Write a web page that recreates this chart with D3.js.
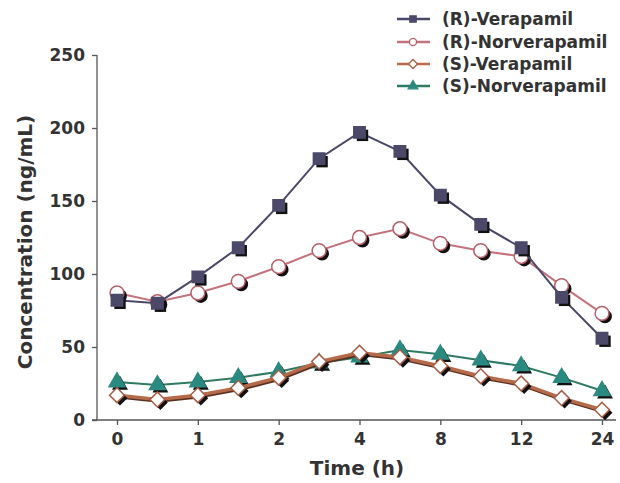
<!DOCTYPE html>
<html>
<head>
<meta charset="utf-8">
<script src="https://cdn.jsdelivr.net/npm/d3@7"></script>
<style>
  body { margin: 0; background: #fff; }
  text { font-family: "DejaVu Sans", Verdana, sans-serif; font-weight: bold; fill: #333; }
</style>
</head>
<body>
<svg id="chart" width="620" height="483"></svg>
<script>
// time points (h), evenly spaced on the axis
const times = ['0', '0.5', '1', '1.5', '2', '3', '4', '6', '8', '10', '12', '16', '24']
const tickTimes = ['0', '1', '2', '4', '8', '12', '24']
const yTicks = [0, 50, 100, 150, 200, 250]

const rVerapamil    = [82, 80, 98, 118, 147, 179, 197, 184, 154, 134, 118, 84, 56]
const rNorverapamil = [87, 81, 87, 95, 105, 116, 125, 131, 121, 116, 112, 92, 73]
const sVerapamil    = [17, 14, 17, 22, 29, 40, 46, 43, 37, 30, 25, 15, 7]
const sNorverapamil = [26, 24, 26, 29, 33, 39, 43, 48, 45, 41, 37, 29, 20]

const seriesNames = ['(R)-Verapamil', '(R)-Norverapamil', '(S)-Verapamil', '(S)-Norverapamil']

const series = [
    {name: seriesNames[0], values: rVerapamil,    line: '#4a4868', width: 2,   shape: 'square',   fill: '#4b4868', stroke: '#4b4868'},
    {name: seriesNames[1], values: rNorverapamil, line: '#c4737c', width: 2,   shape: 'circle',   fill: '#fff',    stroke: '#b85f69'},
    {name: seriesNames[2], values: sVerapamil,    line: '#b56a4a', width: 3.5, shape: 'diamond',  fill: '#fff',    stroke: '#a85d45'},
    {name: seriesNames[3], values: sNorverapamil, line: '#2f7a60', width: 2,   shape: 'triangle', fill: '#2b8a80', stroke: '#2b8a80'}
]

const svg = d3.select('#chart')

const x = d3.scalePoint().domain(times).range([117, 602])
const y = d3.scaleLinear().domain([0, 250]).range([420, 55])

const axisColor = '#555'

// axes
const yAxis = svg.append('g')
    .attr('transform', 'translate(97,0)')
    .call(d3.axisLeft(y).tickValues(yTicks).tickSize(5).tickPadding(7))
yAxis.select('.domain').attr('stroke', axisColor).attr('stroke-width', 1.3).attr('d', 'M0,55V420')
yAxis.selectAll('.tick line').attr('stroke', axisColor).attr('stroke-width', 1.3)
yAxis.selectAll('.tick text').style('font-size', '17px').attr('fill', '#333')

const xAxis = svg.append('g')
    .attr('transform', 'translate(0,420)')
    .call(d3.axisBottom(x).tickValues(tickTimes).tickSize(5).tickPadding(8))
xAxis.select('.domain').attr('stroke', axisColor).attr('stroke-width', 1.3).attr('d', 'M92,0H616')
xAxis.selectAll('.tick line').attr('stroke', axisColor).attr('stroke-width', 1.3)
xAxis.selectAll('.tick text').style('font-size', '17px').attr('fill', '#333')

svg.append('text')
    .attr('x', 357).attr('y', 475)
    .attr('text-anchor', 'middle')
    .style('font-size', '20px')
    .text('Time (h)')

svg.append('text')
    .attr('transform', 'translate(32,242) rotate(-90)')
    .attr('text-anchor', 'middle')
    .style('font-size', '20px')
    .text('Concentration (ng/mL)')

const symbolType = {
    square: d3.symbolSquare,
    circle: d3.symbolCircle,
    diamond: d3.symbolSquare,
    triangle: d3.symbolTriangle
}
const symbolSize = {square: 130, circle: 150, diamond: 110, triangle: 110}

function markerPath(shape, size) {
    return d3.symbol().type(symbolType[shape]).size(size)()
}
function markerRotate(shape) {
    return shape === 'diamond' ? ' rotate(45)' : ''
}

const line = d3.line()
    .x((d, i) => x(times[i]))
    .y(d => y(d))

// draw lines then markers, series by series (S first so R sits on top)
const drawOrder = [3, 2, 1, 0]
drawOrder.forEach(k => {
    const s = series[k]
    const g = svg.append('g')

    if (s.shape === 'diamond') {
        g.append('path')
            .attr('d', line(s.values))
            .attr('fill', 'none')
            .attr('stroke', '#5a3020')
            .attr('stroke-width', s.width)
            .attr('transform', 'translate(1,1.5)')
    }
    g.append('path')
        .attr('d', line(s.values))
        .attr('fill', 'none')
        .attr('stroke', s.line)
        .attr('stroke-width', s.width)

    // black drop shadows
    g.selectAll('.shadow')
        .data(s.values)
        .join('path')
        .attr('class', 'shadow')
        .attr('d', markerPath(s.shape, symbolSize[s.shape]))
        .attr('transform', (d, i) => `translate(${x(times[i]) + 3},${y(d) + 3})` + markerRotate(s.shape))
        .attr('fill', '#111')

    g.selectAll('.marker')
        .data(s.values)
        .join('path')
        .attr('class', 'marker')
        .attr('d', markerPath(s.shape, symbolSize[s.shape]))
        .attr('transform', (d, i) => `translate(${x(times[i])},${y(d)})` + markerRotate(s.shape))
        .attr('fill', s.fill)
        .attr('stroke', s.stroke)
        .attr('stroke-width', 1.5)
})

// legend
const legend = svg.append('g')
const legendY = [19, 42, 64, 86]
series.forEach((s, i) => {
    const row = legend.append('g').attr('transform', `translate(0,${legendY[i]})`)
    row.append('line')
        .attr('x1', 397).attr('x2', 430)
        .attr('stroke', s.line)
        .attr('stroke-width', 2.5)
    row.append('path')
        .attr('d', markerPath(s.shape, 40))
        .attr('transform', 'translate(413,0)' + markerRotate(s.shape))
        .attr('fill', s.fill)
        .attr('stroke', s.stroke)
        .attr('stroke-width', 1.3)
    row.append('text')
        .attr('x', 442).attr('y', 6)
        .style('font-size', '17px')
        .text(s.name)
})
</script>
</body>
</html>
